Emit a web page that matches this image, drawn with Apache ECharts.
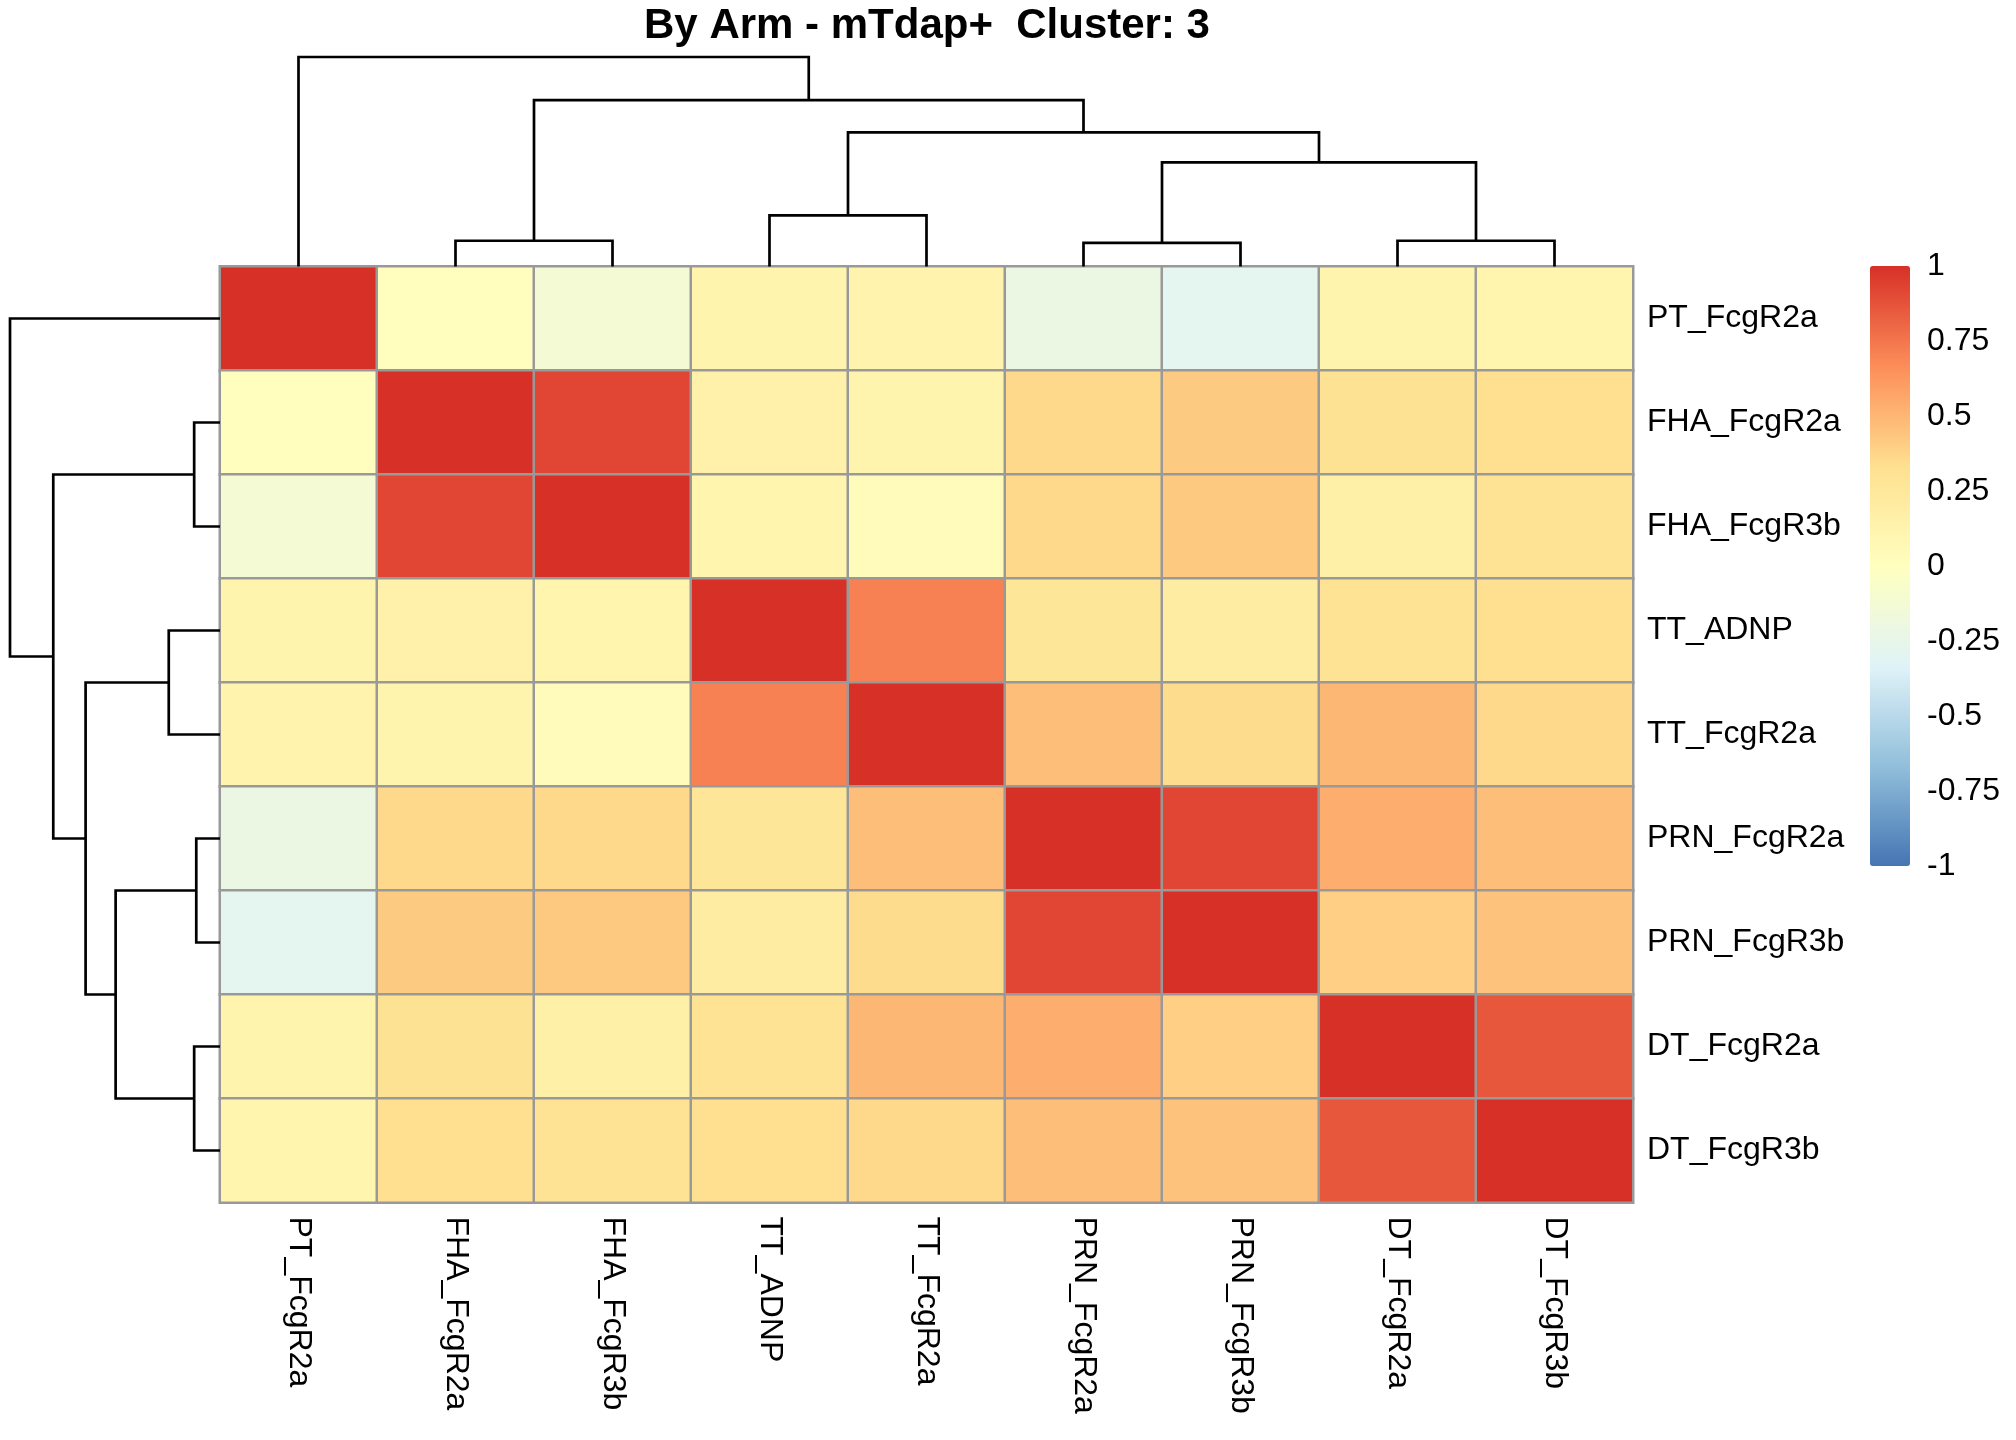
<!DOCTYPE html>
<html>
<head>
<meta charset="utf-8">
<title>By Arm - mTdap+ Cluster: 3</title>
<script src="https://cdn.jsdelivr.net/npm/echarts@6.0.0/dist/echarts.min.js"></script>
<style>
	html, body { margin: 0; padding: 0; background: #fff; }
	#chart { width: 2016px; height: 1440px; }
</style>
</head>
<body>
<div id="chart"></div>
<script>
// labels in clustered order (rows and columns are the same)
var labels = ['PT_FcgR2a', 'FHA_FcgR2a', 'FHA_FcgR3b', 'TT_ADNP', 'TT_FcgR2a', 'PRN_FcgR2a', 'PRN_FcgR3b', 'DT_FcgR2a', 'DT_FcgR3b'];

// correlation rows, same order as labels
var rowPT     = [1.00, 0.01, -0.12, 0.12, 0.13, -0.21, -0.28, 0.12, 0.11];
var rowFHA2a  = [0.01, 1.00, 0.92, 0.15, 0.12, 0.36, 0.42, 0.31, 0.33];
var rowFHA3b  = [-0.12, 0.92, 1.00, 0.11, 0.03, 0.36, 0.43, 0.16, 0.30];
var rowTTADNP = [0.12, 0.15, 0.11, 1.00, 0.71, 0.27, 0.20, 0.30, 0.33];
var rowTT2a   = [0.13, 0.12, 0.03, 0.71, 1.00, 0.47, 0.35, 0.50, 0.36];
var rowPRN2a  = [-0.21, 0.36, 0.36, 0.27, 0.47, 1.00, 0.92, 0.54, 0.47];
var rowPRN3b  = [-0.28, 0.42, 0.43, 0.20, 0.35, 0.92, 1.00, 0.40, 0.45];
var rowDT2a   = [0.12, 0.31, 0.16, 0.30, 0.50, 0.54, 0.40, 1.00, 0.86];
var rowDT3b   = [0.11, 0.33, 0.30, 0.33, 0.36, 0.47, 0.45, 0.86, 1.00];
var corrRows = [rowPT, rowFHA2a, rowFHA3b, rowTTADNP, rowTT2a, rowPRN2a, rowPRN3b, rowDT2a, rowDT3b];

// hclust style merges: negative = leaf (1-based display position), positive = earlier merge
var mergeA = [-2, -4, -6, -8, 3, 2, 1, -1];
var mergeB = [-3, -5, -7, -9, 4, 5, 6, 7];
var mergeHeights = [0.123, 0.244, 0.113, 0.123, 0.497, 0.640, 0.794, 1.000];

// colour scale
var scaleTicks = [-1, -0.75, -0.5, -0.25, 0, 0.25, 0.5, 0.75, 1];
var palette = ['#4575B4', '#91BFDB', '#E0F3F8', '#FFFFBF', '#FEE090', '#FC8D59', '#D73027'];

var FONT = 'Liberation Sans, Arial, sans-serif';

function heatData() {
	var out = [];
	for (var r = 0; r < corrRows.length; r++) {
		for (var c = 0; c < corrRows[r].length; c++) {
			out.push([c, r, corrRows[r][c]]);
		}
	}
	return out;
}

/**
 * segments of the dendrogram: [posLeft, hLeft, posRight, hRight, hMerge]
 */
function dendroData() {
	var pos = [], hts = [], items = [];
	function node(k) {
		if (k < 0) {
			return { p: -k - 1 + 0.5, h: 0 };
		}
		return { p: pos[k - 1], h: hts[k - 1] };
	}
	for (var i = 0; i < mergeA.length; i++) {
		var a = node(mergeA[i]), b = node(mergeB[i]);
		items.push([a.p, a.h, b.p, b.h, mergeHeights[i]]);
		pos[i] = (a.p + b.p) / 2;
		hts[i] = mergeHeights[i];
	}
	return items;
}

function dendroItem(orient) {
	return function(params, api) {
		var pt = function(p, h) {
			return orient == 'top' ? api.coord([p, h]) : api.coord([h, p]);
		};
		var pl = api.value(0), hl = api.value(1), pr = api.value(2), hr = api.value(3), h = api.value(4);
		return {
			type: 'polyline',
			shape: { points: [pt(pl, hl), pt(pl, h), pt(pr, h), pt(pr, hr)] },
			style: { stroke: '#000', lineWidth: 2.7, fill: null }
		};
	};
}

var dendro = dendroData();
var chart = echarts.init(document.getElementById('chart'));
chart.setOption({
	animation: false,
	backgroundColor: '#fff',
	graphic: [{
		type: 'text',
		x: 927,
		y: 26,
		style: {
			text: 'By Arm - mTdap+  Cluster: 3',
			font: 'bold 42px ' + FONT,
			fill: '#000',
			align: 'center',
			verticalAlign: 'middle'
		}
	}],
	grid: [
		{ left: 220, top: 266.5, width: 1413, height: 936 },
		{ left: 220, top: 57, width: 1413, height: 209.5 },
		{ left: 10, top: 266.5, width: 210, height: 936 },
		{ left: 1870, top: 266, width: 40, height: 600 }
	],
	xAxis: [{
		type: 'category',
		gridIndex: 0,
		data: labels,
		position: 'bottom',
		axisLine: { show: false },
		axisTick: { show: false },
		splitLine: { show: false },
		axisLabel: {
			interval: 0,
			rotate: -90,
			margin: 14,
			color: '#000',
			fontSize: 32,
			fontFamily: FONT
		}
	}, {
		type: 'value', gridIndex: 1, min: 0, max: 9, show: false
	}, {
		type: 'value', gridIndex: 2, min: 0, max: 1, inverse: true, show: false
	}, {
		type: 'value', gridIndex: 3, min: 0, max: 1, show: false
	}],
	yAxis: [{
		type: 'category',
		gridIndex: 0,
		data: labels,
		inverse: true,
		position: 'right',
		axisLine: { show: false },
		axisTick: { show: false },
		splitLine: { show: false },
		axisLabel: {
			interval: 0,
			margin: 14,
			padding: [5, 0, 0, 0],
			color: '#000',
			fontSize: 32,
			fontFamily: FONT
		}
	}, {
		type: 'value', gridIndex: 1, min: 0, max: 1, show: false
	}, {
		type: 'value', gridIndex: 2, min: 0, max: 9, inverse: true, show: false
	}, {
		type: 'value',
		gridIndex: 3,
		min: scaleTicks[0],
		max: scaleTicks[scaleTicks.length - 1],
		interval: 0.25,
		position: 'right',
		axisLine: { show: false },
		axisTick: { show: false },
		splitLine: { show: false },
		axisLabel: {
			margin: 17,
			padding: [5, 0, 0, 0],
			color: '#000',
			fontSize: 32,
			fontFamily: FONT
		}
	}],
	visualMap: {
		type: 'continuous',
		seriesIndex: 0,
		min: -1,
		max: 1,
		calculable: false,
		orient: 'vertical',
		left: 1870,
		top: 266,
		padding: 0,
		itemWidth: 40,
		itemHeight: 600,
		text: null,
		inRange: { color: palette }
	},
	series: [{
		type: 'heatmap',
		xAxisIndex: 0,
		yAxisIndex: 0,
		data: heatData(),
		itemStyle: { borderColor: '#999999', borderWidth: 2.5 },
		emphasis: { disabled: true }
	}, {
		type: 'custom',
		xAxisIndex: 1,
		yAxisIndex: 1,
		data: dendro,
		renderItem: dendroItem('top'),
		silent: true
	}, {
		type: 'custom',
		xAxisIndex: 2,
		yAxisIndex: 2,
		data: dendro,
		renderItem: dendroItem('left'),
		silent: true
	}]
});
</script>
</body>
</html>
